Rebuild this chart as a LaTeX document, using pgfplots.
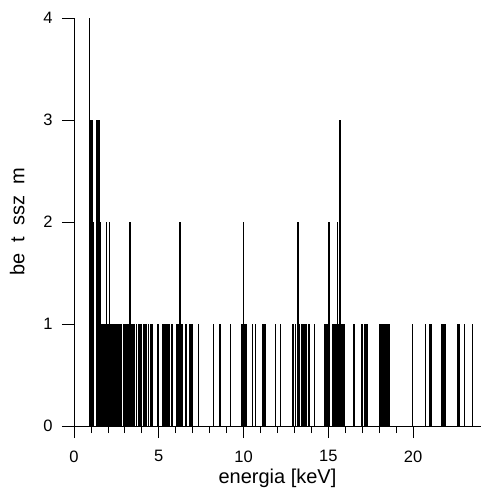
\documentclass[border=0pt]{standalone}
\usepackage{fontspec}
\setmainfont{Liberation Sans}
\usepackage{pgfplots}
\pgfplotsset{compat=1.18}
\usepackage{pgfplotstable}

% energia [keV], beutesszam
\pgfplotstableread{
E n
0.90 4
0.92 3
0.95 3
0.98 3
1.01 3
1.04 3
1.07 3
1.10 3
1.13 2
1.31 3
1.34 3
1.37 3
1.40 3
1.43 3
1.46 3
1.50 3
1.55 2
1.60 1
1.64 1
1.68 1
1.72 1
1.76 1
1.80 1
1.85 1
1.90 2
1.95 1
2.00 1
2.04 1
2.10 2
2.15 1
2.19 1
2.23 1
2.30 1
2.34 1
2.38 1
2.42 1
2.47 1
2.52 1
2.56 1
2.60 1
2.64 1
2.70 1
2.75 1
2.80 1
2.90 1
3.00 1
3.05 1
3.12 1
3.20 1
3.30 2
3.37 1
3.42 1
3.50 1
3.55 1
3.69 1
3.79 1
3.88 1
3.93 1
3.98 1
4.10 1
4.15 1
4.20 1
4.26 1
4.41 1
4.51 1
4.56 1
4.62 1
4.95 1
5.22 1
5.27 1
5.32 1
5.37 1
5.42 1
5.47 1
5.52 1
5.58 1
5.63 1
5.75 1
5.83 1
6.05 1
6.12 1
6.18 1
6.25 2
6.29 2
6.35 1
6.42 1
6.61 1
6.83 1
6.88 1
6.93 1
7.00 1
7.32 1
8.24 1
8.56 1
8.62 1
8.66 1
9.23 1
9.87 1
9.92 1
9.97 1
10.01 2
10.06 1
10.10 1
10.15 1
10.52 1
10.72 1
11.15 1
11.21 1
11.27 1
11.90 1
12.19 1
12.88 1
12.93 1
13.07 1
13.21 2
13.30 1
13.40 1
13.47 1
13.55 1
13.62 1
13.72 1
13.86 1
14.19 1
14.80 1
14.86 1
14.93 1
15.04 2
15.27 1
15.32 1
15.38 1
15.44 1
15.50 1
15.53 2
15.58 1
15.64 3
15.68 3
15.74 1
15.80 1
15.86 1
15.92 1
16.51 1
16.94 1
17.00 1
17.16 1
17.22 1
17.28 1
18.02 1
18.10 1
18.18 1
18.25 1
18.30 1
18.36 1
18.42 1
18.52 1
18.60 1
19.98 1
20.73 1
20.94 1
21.00 1
21.08 1
21.70 1
21.76 1
21.82 1
21.88 1
22.60 1
22.70 1
23.03 1
23.48 1
}\counts

\begin{document}
\begin{tikzpicture}
\path[use as bounding box] (-74pt,-67pt) rectangle (409pt,426pt);
\begin{axis}[
    scale only axis,
    width=407pt, height=408pt,
    xmin=0, xmax=24,
    ymin=0, ymax=4,
    axis x line*=bottom,
    axis y line*=left,
    axis line style={-, black},
    xtick={0,5,10,15,20},
    minor x tick num=4,
    ytick={0,1,2,3,4},
    tick align=outside,
    major tick length=12pt,
    minor tick length=7pt,
    tick style={black, line width=0.8pt},
    /pgf/number format/assume math mode=true,
    tick label style={font=\fontsize{16.5}{18}\selectfont},
    xticklabel style={yshift=-9pt},
    yticklabel style={xshift=-6pt},
    xlabel={energia [keV]},
    ylabel={be\hspace{0.55em}t\hspace{0.55em}ssz\hspace{0.55em}m},
    label style={font=\fontsize{20}{22}\selectfont},
    xlabel style={at={(axis description cs:0.5,-0.141)}, anchor=base},
    ylabel style={at={(axis description cs:-0.113,0.5)}, anchor=south},
    clip=false,
]
\addplot[ycomb, black, line width=1.2pt, mark=none] table[x=E, y=n] {\counts};
\end{axis}
\end{tikzpicture}
\end{document}
